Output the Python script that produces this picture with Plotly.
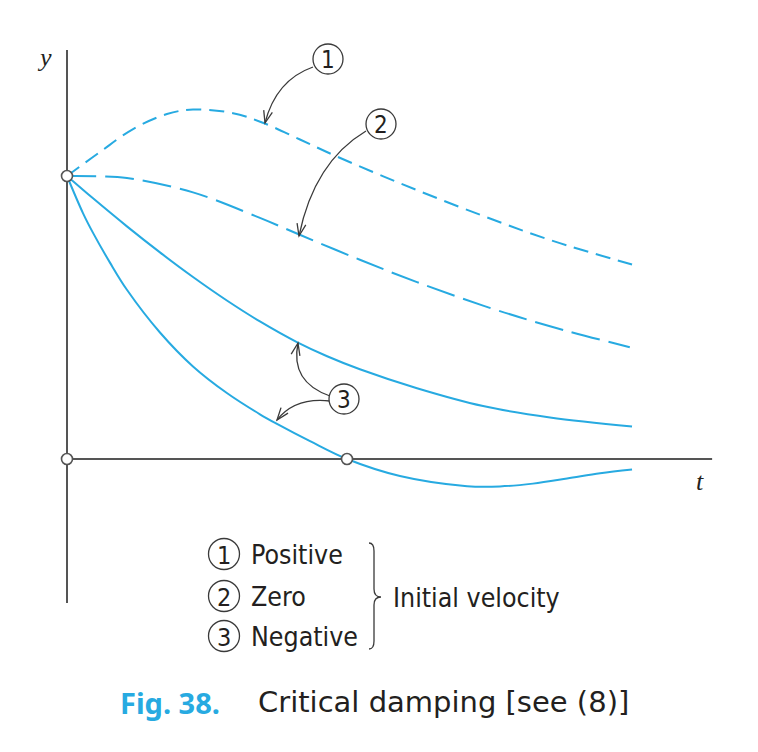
import numpy as np
import plotly.graph_objects as go

# ---------------- data (t, y) ----------------
t_pos = [0.0, 0.118, 0.236, 0.357, 0.45, 0.593, 0.70, 0.832, 0.95, 1.093, 1.25, 1.486, 1.725, 2.018]
y_pos = [1.0, 1.085, 1.166, 1.219, 1.235, 1.222, 1.188, 1.129, 1.075, 1.014, 0.950, 0.859, 0.774, 0.687]

t_zero = [0.0, 0.118, 0.214, 0.45, 0.689, 0.825, 1.046, 1.25, 1.486, 1.725, 2.01]
y_zero = [1.0, 0.999, 0.993, 0.942, 0.852, 0.795, 0.704, 0.625, 0.542, 0.469, 0.395]

t_neg_a = [0.0, 0.093, 0.214, 0.332, 0.45, 0.571, 0.689, 0.821, 0.929, 1.046, 1.25, 1.486, 1.725, 2.018]
y_neg_a = [1.0, 0.921, 0.822, 0.730, 0.643, 0.560, 0.486, 0.413, 0.363, 0.317, 0.250, 0.187, 0.147, 0.115]

t_neg_b = [0.0, 0.057, 0.093, 0.154, 0.214, 0.332, 0.45, 0.571, 0.689, 0.75, 0.868, 1.0, 1.189, 1.429, 1.546, 1.664, 1.786, 1.904, 2.018]
y_neg_b = [1.0, 0.869, 0.799, 0.693, 0.598, 0.447, 0.327, 0.233, 0.158, 0.124, 0.063, 0.0, -0.060, -0.096, -0.097, -0.087, -0.069, -0.050, -0.037]

marked_t = [0.0, 0.0, 1.0]
marked_y = [1.0, 0.0, 0.0]

t_axis_extent = [0.0, 2.304]
y_axis_extent = [-0.509, 1.445]

legend_nums = ["1", "2", "3"]
legend_words = ["Positive", "Zero", "Negative"]
legend_group = "Initial velocity"
caption_bold = "Fig. 38."
caption_text = "Critical damping [see (8)]"

# ---------------- style ----------------
W, H = 758, 752
CYAN = "#27aae1"
GRAY = "#555555"
DARK = "#3a3a3a"
TXT = "#231f20"
LEG_FONT = "DejaVu Sans Condensed, Liberation Sans, sans-serif"

def X(px):
    return px / W

def Y(py):
    return 1 - py / H

fig = go.Figure()

# axes
fig.add_trace(go.Scatter(x=t_axis_extent, y=[0, 0], mode="lines",
                         line=dict(color=GRAY, width=2), hoverinfo="skip"))
fig.add_trace(go.Scatter(x=[0, 0], y=y_axis_extent, mode="lines",
                         line=dict(color=GRAY, width=2), hoverinfo="skip"))

# curves
fig.add_trace(go.Scatter(x=t_pos, y=y_pos, mode="lines", line_shape="spline",
                         line=dict(color=CYAN, width=2, dash="15px,8px")))
fig.add_trace(go.Scatter(x=t_zero, y=y_zero, mode="lines", line_shape="spline",
                         line=dict(color=CYAN, width=2, dash="29px,9px")))
fig.add_trace(go.Scatter(x=t_neg_a, y=y_neg_a, mode="lines", line_shape="spline",
                         line=dict(color=CYAN, width=2)))
fig.add_trace(go.Scatter(x=t_neg_b, y=y_neg_b, mode="lines", line_shape="spline",
                         line=dict(color=CYAN, width=2)))

# marked points
fig.add_trace(go.Scatter(x=marked_t, y=marked_y, mode="markers",
                         marker=dict(size=11, color="white",
                                     line=dict(color=GRAY, width=1.6))))

shapes = []
annotations = []

# curved arrows (pixel geometry): start, control, tip
arrows = [
    ((313, 67), (276, 80), (265, 123)),
    ((366, 131), (314, 162), (299, 236)),
    ((330, 396), (290, 382), (298, 343)),
    ((330, 401), (295, 397), (277, 420)),
]
for (s, c, e) in arrows:
    shapes.append(dict(type="path", xref="paper", yref="paper",
                       path=f"M {X(s[0])},{Y(s[1])} Q {X(c[0])},{Y(c[1])} {X(e[0])},{Y(e[1])}",
                       line=dict(color=DARK, width=1.3)))
    d = np.array(e, float) - np.array(c, float)
    d /= np.linalg.norm(d)
    L, th = 13, np.radians(20)
    arms = []
    for sgn in (1, -1):
        ct, st = np.cos(sgn * th), np.sin(sgn * th)
        r = np.array([d[0] * ct - d[1] * st, d[0] * st + d[1] * ct])
        arms.append(np.array(e) - L * r)
    a1, a2 = arms
    shapes.append(dict(type="path", xref="paper", yref="paper",
                       path=f"M {X(a1[0])},{Y(a1[1])} L {X(e[0])},{Y(e[1])} L {X(a2[0])},{Y(a2[1])}",
                       line=dict(color=DARK, width=1.3)))

# circled numbers
def circled(cx, cy, r, txt, size):
    shapes.append(dict(type="circle", xref="paper", yref="paper",
                       x0=X(cx - r), x1=X(cx + r), y0=Y(cy + r), y1=Y(cy - r),
                       line=dict(color=DARK, width=1.3), fillcolor="white"))
    annotations.append(dict(x=X(cx), y=Y(cy + 1), xref="paper", yref="paper", text=txt,
                            showarrow=False, xanchor="center", yanchor="middle",
                            font=dict(family=LEG_FONT, size=size, color=TXT)))

circled(328, 59, 15, legend_nums[0], 24)
circled(381, 124, 15, legend_nums[1], 24)
circled(344, 399, 15, legend_nums[2], 24)

# axis labels
annotations.append(dict(x=X(44), y=Y(57), xref="paper", yref="paper", text="<i>y</i>",
                        showarrow=False, xanchor="center", yanchor="middle",
                        font=dict(family="Liberation Serif", size=26, color=TXT)))
annotations.append(dict(x=X(700), y=Y(481), xref="paper", yref="paper", text="<i>t</i>",
                        showarrow=False, xanchor="center", yanchor="middle",
                        font=dict(family="Liberation Serif", size=26, color=TXT)))

# legend block
rows_y = [554, 596, 636]
for num, word, ry in zip(legend_nums, legend_words, rows_y):
    circled(224, ry, 15.5, num, 25)
    annotations.append(dict(x=X(249), y=Y(ry), xref="paper", yref="paper", text=word,
                            showarrow=False, xanchor="left", yanchor="middle",
                            font=dict(family=LEG_FONT, size=26.5, color=TXT)))

bx, by0, by1, bm = 374, 543, 649, 597
shapes.append(dict(type="path", xref="paper", yref="paper",
                   path=(f"M {X(bx-5)},{Y(by0)} Q {X(bx)},{Y(by0)} {X(bx)},{Y(by0+8)} "
                         f"L {X(bx)},{Y(bm-8)} Q {X(bx)},{Y(bm)} {X(bx+7)},{Y(bm)} "
                         f"Q {X(bx)},{Y(bm)} {X(bx)},{Y(bm+8)} "
                         f"L {X(bx)},{Y(by1-8)} Q {X(bx)},{Y(by1)} {X(bx-5)},{Y(by1)}"),
                   line=dict(color=DARK, width=1.3)))
annotations.append(dict(x=X(391), y=Y(597), xref="paper", yref="paper", text=legend_group,
                        showarrow=False, xanchor="left", yanchor="middle",
                        font=dict(family=LEG_FONT, size=26.5, color=TXT)))

# caption
annotations.append(dict(x=X(118), y=Y(702), xref="paper", yref="paper",
                        text=f"<b><span style='color:{CYAN}'>{caption_bold}</span></b>",
                        showarrow=False, xanchor="left", yanchor="middle",
                        font=dict(family="Noto Sans", size=29)))
annotations.append(dict(x=X(256), y=Y(702), xref="paper", yref="paper",
                        text=caption_text,
                        showarrow=False, xanchor="left", yanchor="middle",
                        font=dict(family="DejaVu Sans", size=29, color=TXT)))

fig.update_layout(
    width=W, height=H, margin=dict(l=0, r=0, t=0, b=0),
    paper_bgcolor="white", plot_bgcolor="white", showlegend=False,
    xaxis=dict(range=[-67 / 280, 691 / 280], visible=False, fixedrange=True),
    yaxis=dict(range=[(459 - 752) / 283, 459 / 283], visible=False, fixedrange=True),
    shapes=shapes, annotations=annotations, hovermode=False,
)

fig.write_html("out.html")
